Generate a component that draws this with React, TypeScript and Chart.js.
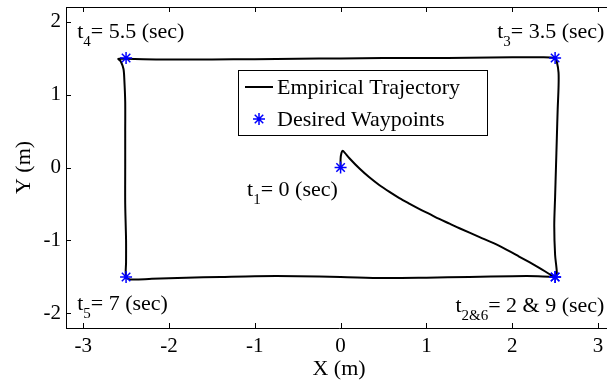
import React, { useEffect, useRef } from 'react';
import { Chart, registerables } from 'chart.js';

Chart.register(...registerables);

// Empirical trajectory (X, Y in metres), in time order
const trajX = [
  0, 0, 0.01, 0.025, 0.05, 0.1, 0.22, 0.335, 0.45, 0.57, 0.685, 0.8, 0.92, 1.035, 1.15, 1.27, 1.385, 1.62, 1.85, 2.08, 2.32, 2.5,
  2.52, 2.5, 2.49, 2.5, 2.51, 2.52, 2.53, 2.54, 2.54, 2.52, 2.5,
  2.3, 2.0, 1.5, 1.0, 0.5, 0, -0.5, -1.0, -1.5, -2.0, -2.3, -2.5, -2.59,
  -2.56, -2.53, -2.52, -2.51, -2.51, -2.51, -2.51, -2.5, -2.5, -2.5,
  -2.45, -2.2, -1.8, -1.4, -1.0, -0.5, 0, 0.5, 1.0, 1.5, 2.0, 2.3, 2.5,
];
const trajY = [
  0, 0.12, 0.2, 0.23, 0.2, 0.13, -0.015, -0.135, -0.24, -0.335, -0.42, -0.495, -0.57, -0.637, -0.705, -0.77, -0.833, -0.954, -1.075, -1.22, -1.378, -1.5,
  -1.45, -1.2, -0.8, -0.4, 0, 0.4, 0.8, 1.1, 1.3, 1.45, 1.5,
  1.51, 1.51, 1.505, 1.5, 1.5, 1.495, 1.49, 1.485, 1.48, 1.48, 1.485, 1.49, 1.49,
  1.45, 1.35, 1.2, 0.9, 0.5, 0, -0.5, -1.0, -1.3, -1.5,
  -1.535, -1.525, -1.51, -1.5, -1.49, -1.49, -1.5, -1.515, -1.51, -1.5, -1.49, -1.49, -1.5,
];

// Desired waypoints
const waypointX = [0, 2.5, 2.5, -2.5, -2.5, 2.5];
const waypointY = [0, -1.5, 1.5, 1.5, -1.5, -1.5];

const seriesLabels = ['Empirical Trajectory', 'Desired Waypoints'];

const xTickValues = [-3, -2, -1, 0, 1, 2, 3];
const yTickValues = [-2, -1, 0, 1, 2];
const xRange = [-3.2, 3.163];
const yRange = [-2.2, 2.2];

// Time annotations: t_sub = rest, anchored in data coordinates
const timeNotes = [
  { sub: '4', rest: '= 5.5 (sec)', x: -3.07, y: 1.77, align: 'left' },
  { sub: '3', rest: '= 3.5 (sec)', x: 3.075, y: 1.77, align: 'right' },
  { sub: '1', rest: '= 0 (sec)', x: -1.09, y: -0.39, align: 'left' },
  { sub: '5', rest: '= 7 (sec)', x: -3.07, y: -1.95, align: 'left' },
  { sub: '2&6', rest: '= 2 & 9 (sec)', x: 3.075, y: -1.975, align: 'right' },
];

const FONT = "'Liberation Serif', 'Times New Roman', serif";

function drawStar(ctx: CanvasRenderingContext2D, x: number, y: number, r: number) {
  ctx.beginPath();
  ctx.moveTo(x - r, y);
  ctx.lineTo(x + r, y);
  ctx.moveTo(x, y - r);
  ctx.lineTo(x, y + r);
  const d = r * Math.SQRT1_2;
  ctx.moveTo(x - d, y - d);
  ctx.lineTo(x + d, y + d);
  ctx.moveTo(x - d, y + d);
  ctx.lineTo(x + d, y - d);
  ctx.stroke();
}

const decorPlugin = {
  id: 'decor',
  afterDraw(chart: any) {
    const ctx: CanvasRenderingContext2D = chart.ctx;
    const xs = chart.scales.x;
    const ys = chart.scales.y;
    const area = chart.chartArea;
    ctx.save();
    // frame top line
    ctx.strokeStyle = '#000';
    ctx.lineWidth = 1;
    ctx.beginPath();
    ctx.moveTo(area.left, area.top + 0.5);
    ctx.lineTo(area.right, area.top + 0.5);
    ctx.stroke();
    // inside tick marks
    const tl = 5;
    ctx.beginPath();
    xTickValues.forEach((v) => {
      const px = Math.round(xs.getPixelForValue(v)) + 0.5;
      ctx.moveTo(px, area.bottom);
      ctx.lineTo(px, area.bottom - tl);
      ctx.moveTo(px, area.top);
      ctx.lineTo(px, area.top + tl);
    });
    yTickValues.forEach((v) => {
      const py = Math.round(ys.getPixelForValue(v)) + 0.5;
      ctx.moveTo(area.left, py);
      ctx.lineTo(area.left + tl, py);
    });
    ctx.stroke();

    // time annotations
    ctx.fillStyle = '#000';
    ctx.textBaseline = 'alphabetic';
    timeNotes.forEach((n) => {
      const mainFont = `22px ${FONT}`;
      const subFont = `15px ${FONT}`;
      ctx.font = mainFont;
      const wT = ctx.measureText('t').width;
      const wRest = ctx.measureText(n.rest).width;
      ctx.font = subFont;
      const wSub = ctx.measureText(n.sub).width;
      const total = wT + wSub + wRest;
      let x = xs.getPixelForValue(n.x);
      const y = ys.getPixelForValue(n.y);
      if (n.align === 'right') x -= total;
      ctx.textAlign = 'left';
      ctx.font = mainFont;
      ctx.fillText('t', x, y);
      ctx.font = subFont;
      ctx.fillText(n.sub, x + wT, y + 8);
      ctx.font = mainFont;
      ctx.fillText(n.rest, x + wT + wSub, y);
    });

    // legend box
    const lx = area.left + 172;
    const ly = area.top + 63;
    const lw = 249;
    const lh = 65;
    ctx.fillStyle = '#fff';
    ctx.fillRect(lx, ly, lw, lh);
    ctx.strokeStyle = '#000';
    ctx.lineWidth = 1;
    ctx.strokeRect(lx + 0.5, ly + 0.5, lw, lh);
    const row1 = ly + 17;
    const row2 = ly + 49;
    ctx.lineWidth = 2;
    ctx.beginPath();
    ctx.moveTo(lx + 7, row1);
    ctx.lineTo(lx + 35, row1);
    ctx.stroke();
    ctx.strokeStyle = '#0000ff';
    ctx.lineWidth = 1.5;
    drawStar(ctx, lx + 21, row2, 6);
    ctx.fillStyle = '#000';
    ctx.font = `22px ${FONT}`;
    ctx.textBaseline = 'middle';
    ctx.textAlign = 'left';
    ctx.fillText(seriesLabels[0], lx + 39, row1 + 1);
    ctx.fillText(seriesLabels[1], lx + 39, row2 + 1);
    ctx.restore();
  },
};

function zeroPad(s: any) {
  s.paddingTop = 0;
  s.paddingBottom = 0;
  s.paddingLeft = 0;
  s.paddingRight = 0;
}

export default function App() {
  const ref = useRef<HTMLCanvasElement>(null);
  useEffect(() => {
    document.body.style.margin = '0';
    const canvas = ref.current!;
    const chart = new Chart(canvas, {
      type: 'scatter',
      data: {
        datasets: [
          {
            label: seriesLabels[1],
            data: waypointX.map((x, i) => ({ x, y: waypointY[i] })),
            pointStyle: 'star',
            pointRadius: 6,
            pointBorderColor: '#0000ff',
            pointBackgroundColor: '#0000ff',
            pointBorderWidth: 1.5,
            showLine: false,
            order: 0,
          },
          {
            label: seriesLabels[0],
            data: trajX.map((x, i) => ({ x, y: trajY[i] })),
            showLine: true,
            borderColor: '#000',
            borderWidth: 2,
            pointRadius: 0,
            tension: 0.3,
            order: 1,
          },
        ],
      },
      options: {
        responsive: false,
        animation: false,
        clip: false,
        layout: { autoPadding: false, padding: { top: 7, right: 0, left: 0, bottom: 0 } },
        plugins: { legend: { display: false }, tooltip: { enabled: false } },
        scales: {
          x: {
            type: 'linear',
            min: xRange[0],
            max: xRange[1],
            afterBuildTicks: (s: any) => {
              s.ticks = xTickValues.map((v) => ({ value: v }));
            },
            afterFit: (s: any) => {
              s.height = 57;
              zeroPad(s);
            },
            grid: { display: false, drawTicks: false },
            border: { display: true, color: '#000', width: 1 },
            ticks: {
              color: '#000',
              padding: 6,
              font: { family: FONT, size: 21 },
              maxRotation: 0,
              callback: (v: any) => String(v),
            },
            title: {
              display: true,
              text: 'X (m)',
              color: '#000',
              font: { family: FONT, size: 22 },
              padding: { top: 0, bottom: 3 },
              align: 'center',
            },
          },
          y: {
            type: 'linear',
            min: yRange[0],
            max: yRange[1],
            afterBuildTicks: (s: any) => {
              s.ticks = yTickValues.map((v) => ({ value: v }));
            },
            afterFit: (s: any) => {
              s.width = 66;
              zeroPad(s);
            },
            grid: { display: false, drawTicks: false },
            border: { display: true, color: '#000', width: 1 },
            ticks: {
              color: '#000',
              padding: 5,
              font: { family: FONT, size: 21 },
              callback: (v: any) => String(v),
            },
            title: {
              display: true,
              text: 'Y (m)',
              color: '#000',
              font: { family: FONT, size: 22 },
              padding: { top: 11, bottom: 0 },
            },
          },
        },
      },
      plugins: [decorPlugin],
    });
    return () => chart.destroy();
  }, []);
  return (
    <div style={{ position: 'absolute', left: 0, top: 0, width: 607, height: 385, background: '#fff', overflow: 'hidden' }}>
      <canvas ref={ref} width={612} height={385} style={{ display: 'block', width: 612, height: 385 }} />
    </div>
  );
}
